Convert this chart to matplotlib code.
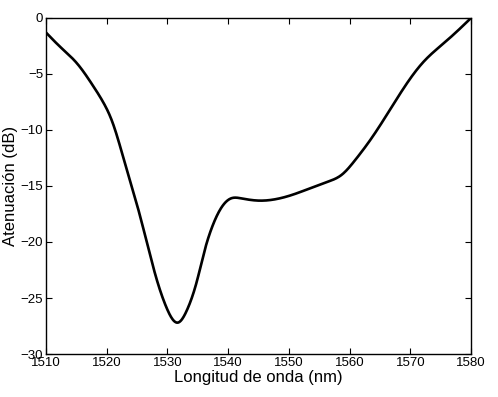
import numpy as np
import matplotlib
matplotlib.use("Agg")
import matplotlib.pyplot as plt

# values
wavelength = [1510.0, 1512.3, 1515.1, 1517.8, 1519.5, 1520.8, 1521.9, 1522.7, 1524.8,
              1526.5, 1528.1, 1529.8, 1531.7, 1533.2, 1534.9, 1536.0, 1537.4, 1538.8,
              1540.5, 1542.1, 1544.8, 1547.6, 1550.5, 1554.0, 1556.5, 1558.7, 1560.9,
              1563.4, 1565.6, 1567.8, 1570.0, 1572.2, 1575.5, 1578.8, 1580.0]
attenuation = [-1.3, -2.56, -4.05, -6.1, -7.6, -9.1, -10.9, -12.4, -16.3,
               -19.8, -23.1, -25.8, -27.2, -26.1, -23.4, -21.0, -18.6, -17.0,
               -16.1, -16.1, -16.3, -16.2, -15.8, -15.1, -14.6, -14.0, -12.7,
               -10.9, -9.1, -7.2, -5.4, -3.9, -2.26, -0.63, 0.0]

xticks = [1510, 1520, 1530, 1540, 1550, 1560, 1570, 1580]
yticks = [0, -5, -10, -15, -20, -25, -30]

plt.rcParams['font.family'] = ['Liberation Sans', 'DejaVu Sans']


def natural_spline(x, y, xn):
    # plain natural cubic spline, solved with numpy
    n = len(x)
    h = np.diff(x)
    A = np.zeros((n, n))
    r = np.zeros(n)
    A[0, 0] = A[-1, -1] = 1
    for i in range(1, n - 1):
        A[i, i - 1] = h[i - 1]
        A[i, i] = 2 * (h[i - 1] + h[i])
        A[i, i + 1] = h[i]
        r[i] = 3 * ((y[i + 1] - y[i]) / h[i] - (y[i] - y[i - 1]) / h[i - 1])
    c = np.linalg.solve(A, r)
    b = (y[1:] - y[:-1]) / h - h * (2 * c[:-1] + c[1:]) / 3
    d = (c[1:] - c[:-1]) / (3 * h)
    idx = np.clip(np.searchsorted(x, xn) - 1, 0, n - 2)
    dx = xn - x[idx]
    return y[idx] + b[idx] * dx + c[idx] * dx ** 2 + d[idx] * dx ** 3


fig = plt.figure(figsize=(4.98, 3.97), dpi=100)
ax = fig.add_axes([0.0924, 0.1083, 0.8534, 0.8464])

xs = np.array(wavelength)
ys = np.array(attenuation)
xf = np.linspace(xs[0], xs[-1], 800)
ax.plot(xf, natural_spline(xs, ys, xf), color="black", linewidth=1.9)

ax.set_xlim(1510, 1580)
ax.set_ylim(-30, 0)
ax.set_xticks(xticks)
ax.set_yticks(yticks)
ax.tick_params(direction="in", top=True, right=True, length=4, width=0.8,
               labelsize=9.5, pad=2)
for s in ax.spines.values():
    s.set_linewidth(1.0)

ax.set_xlabel("Longitud de onda (nm)", fontsize=12, labelpad=1)
ax.set_ylabel("Atenuación (dB)", fontsize=12, labelpad=2)

fig.savefig("out.png", dpi=100)
